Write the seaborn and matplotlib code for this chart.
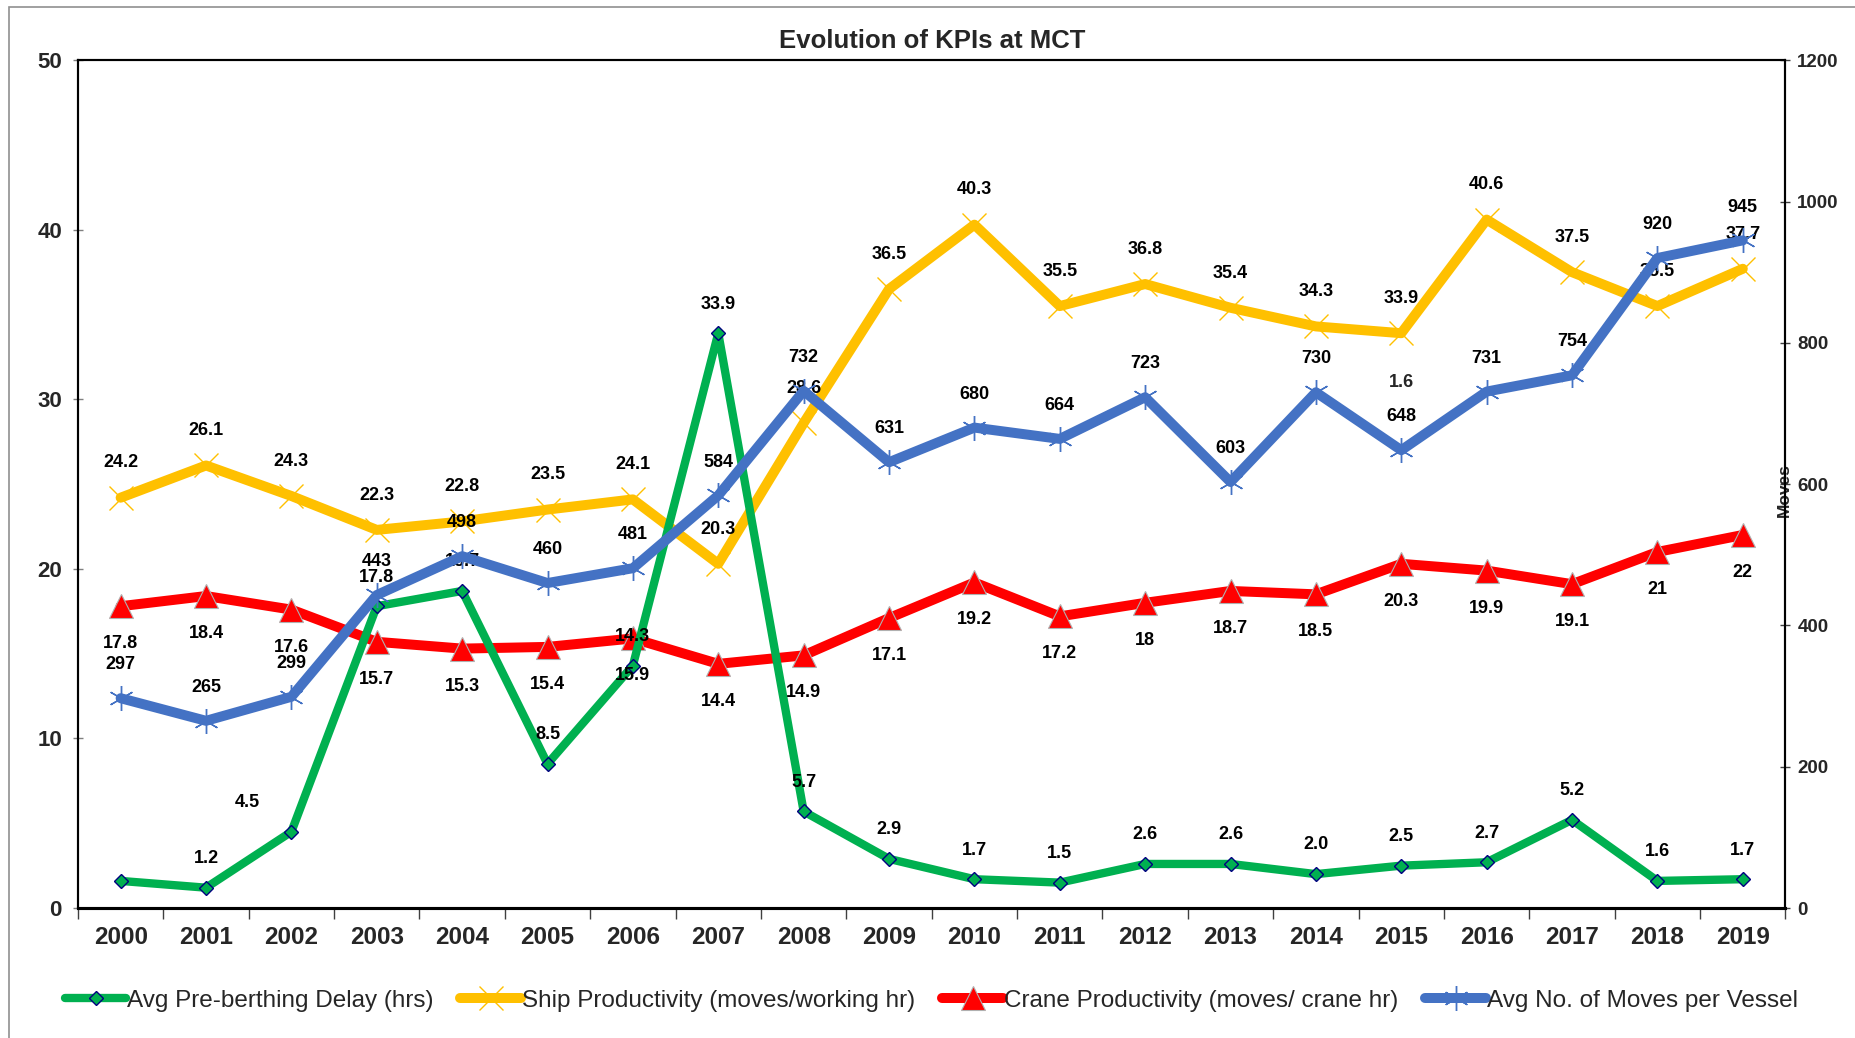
import numpy as np
import pandas as pd
import seaborn as sns
import matplotlib.pyplot as plt
from matplotlib.patches import Rectangle

# chart data
years = [str(y) for y in range(2000, 2020)]
delay = [1.6, 1.2, 4.5, 17.8, 18.7, 8.5, 14.3, 33.9, 5.7, 2.9,
         1.7, 1.5, 2.6, 2.6, 2.0, 2.5, 2.7, 5.2, 1.6, 1.7]
ship_prod = [24.2, 26.1, 24.3, 22.3, 22.8, 23.5, 24.1, 20.3, 28.6, 36.5,
             40.3, 35.5, 36.8, 35.4, 34.3, 33.9, 40.6, 37.5, 35.5, 37.7]
crane_prod = [17.8, 18.4, 17.6, 15.7, 15.3, 15.4, 15.9, 14.4, 14.9, 17.1,
              19.2, 17.2, 18, 18.7, 18.5, 20.3, 19.9, 19.1, 21, 22]
moves = [297, 265, 299, 443, 498, 460, 481, 584, 732, 631,
         680, 664, 723, 603, 730, 648, 731, 754, 920, 945]

names = ['Avg Pre-berthing Delay (hrs)', 'Ship Productivity (moves/working hr)',
         'Crane Productivity (moves/ crane hr)', 'Avg No. of Moves per Vessel']

df = pd.DataFrame({'pos': np.arange(len(years)), 'year': years,
                   'delay': delay, 'ship': ship_prod,
                   'crane': crane_prod, 'moves': moves})

sns.set_style('white')
plt.rcParams['font.family'] = ['Liberation Sans', 'DejaVu Sans']

fig = plt.figure(figsize=(18.56, 10.38), dpi=100)
ax1 = fig.add_axes([0.042, 0.1252, 0.920, 0.8168])
ax2 = ax1.twinx()

green, yellow, red, blue = '#00B050', '#FFC000', '#FF0000', '#4472C4'

sns.lineplot(data=df, x='pos', y='ship', ax=ax1, color=yellow, lw=7.2,
             marker='x', markersize=17, markeredgewidth=1.0,
             markeredgecolor=yellow, label=names[1], zorder=3)
sns.lineplot(data=df, x='pos', y='crane', ax=ax1, color=red, lw=7.2,
             marker='^', markersize=17, markerfacecolor=red,
             markeredgecolor='#b0b0b0', markeredgewidth=0.8,
             label=names[2], zorder=3)
sns.lineplot(data=df, x='pos', y='delay', ax=ax1, color=green, lw=6,
             marker='D', markersize=7, markerfacecolor=green,
             markeredgecolor='#000080', markeredgewidth=1.0,
             label=names[0], zorder=4)
sns.lineplot(data=df, x='pos', y='moves', ax=ax2, color=blue, lw=7.2,
             marker=(6, 2, 0), markersize=18, markeredgewidth=1.0,
             markeredgecolor=blue, label=names[3], zorder=3)


def put_labels(ax, vals, fmt, dy, skip=(), dx=None):
    dx = dx or {}
    for i, v in enumerate(vals):
        if i in skip:
            continue
        ax.annotate(fmt(v), (i, v), xytext=(dx.get(i, 0), dy),
                    textcoords='offset points', ha='center', va='center',
                    fontsize=13, fontweight='bold', color='black', zorder=10)


put_labels(ax1, ship_prod, lambda v: '{:g}'.format(v), 25)
put_labels(ax1, crane_prod, lambda v: '{:g}'.format(v), -27)
put_labels(ax1, delay, lambda v: '{:.1f}'.format(v), 21, skip=(0,), dx={2: -32})
put_labels(ax2, moves, lambda v: '{:d}'.format(v), 24)
# stray label of the first delay point, left where it was dragged
ax1.text(15, 31.0, '{:.1f}'.format(delay[0]), ha='center', va='center',
         fontsize=13, fontweight='bold', zorder=10)

ax1.set_xlim(-0.5, len(years) - 0.5)
ax1.set_ylim(0, 50)
ax2.set_ylim(0, 1200)
ax1.set_yticks(range(0, 51, 10))
ax2.set_yticks(range(0, 1201, 200))
ax1.set_xticks(df['pos'])
ax1.set_xticklabels(years, fontsize=17.5, fontweight='bold')
ax1.set_xticks(np.arange(-0.5, len(years), 1), minor=True)
ax1.tick_params(axis='x', which='major', length=0, pad=13)
ax1.tick_params(axis='x', which='minor', length=8, width=1, color='#404040',
                direction='out', bottom=True)
for lab in ax1.get_yticklabels():
    lab.set_fontweight('bold')
ax1.tick_params(axis='y', labelsize=16, length=7, width=1, color='#808080',
                direction='inout', left=True, pad=8)
for lab in ax2.get_yticklabels():
    lab.set_fontweight('bold')
ax2.tick_params(axis='y', labelsize=13.5, length=7, width=1, color='#404040',
                direction='inout', right=True, pad=5)

ax1.set_xlabel('')
ax1.set_ylabel('')
ax2.set_ylabel('Moves', fontsize=12.5, fontweight='bold')
ax2.yaxis.label.set_va('center')
ax2.yaxis.label.set_ha('center')
ax2.yaxis.set_label_coords(0.9995, 0.493)

for ax in (ax1, ax2):
    for s in ax.spines.values():
        s.set_color('black')
        s.set_linewidth(1.5)
ax1.spines['bottom'].set_linewidth(2.2)
ax2.spines['bottom'].set_linewidth(2.2)

ax1.set_title('Evolution of KPIs at MCT', fontsize=18.5, fontweight='bold', pad=9)

# combined legend along the bottom
h1, l1 = ax1.get_legend_handles_labels()
h2, l2 = ax2.get_legend_handles_labels()
hd = dict(zip(l1 + l2, h1 + h2))
ax1.get_legend().remove()
ax2.get_legend().remove()
fig.legend([hd[n] for n in names], names, loc='center', ncol=4,
           bbox_to_anchor=(0.502, 0.036), frameon=False, fontsize=17.5,
           handlelength=2.5, handletextpad=0.05, columnspacing=1.1)

# outer chart frame
fig.patches.append(Rectangle((9 / 1856, -0.05), 1.2, 0.05 + 1 - 7 / 1038,
                             transform=fig.transFigure, fill=False,
                             edgecolor='#909090', lw=1.2))

fig.savefig('out.png', dpi=100)
